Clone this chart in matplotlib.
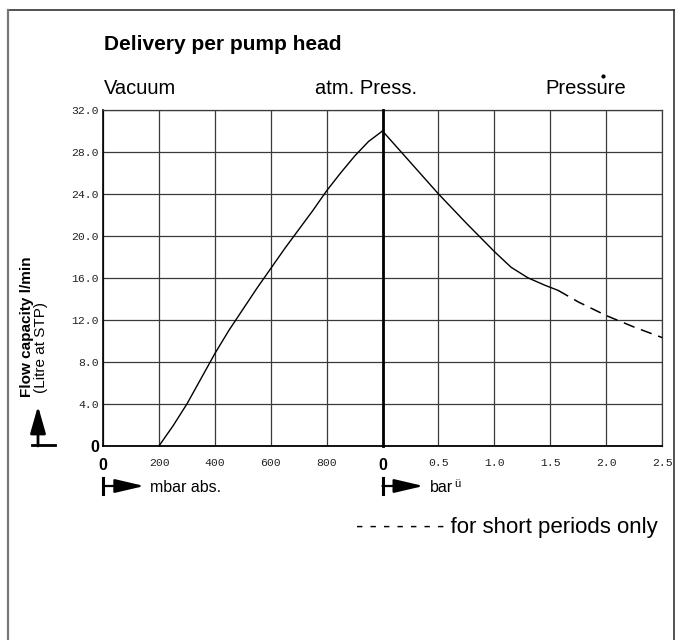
import matplotlib
matplotlib.use('Agg')
import matplotlib.pyplot as plt
from matplotlib.patches import FancyArrowPatch
from matplotlib.lines import Line2D

# ---------------- data ----------------
vac_mbar = [200, 250, 300, 350, 400, 450, 500, 550, 600, 650, 700, 750, 800, 850, 900, 950, 1000]
vac_flow = [0.0, 1.9, 4.0, 6.4, 8.8, 11.0, 13.0, 15.0, 16.9, 18.8, 20.6, 22.4, 24.3, 26.0, 27.6, 29.0, 30.0]

pr_bar = [0.0, 0.25, 0.5, 0.75, 1.0, 1.15, 1.3, 1.45, 1.57]
pr_flow = [30.0, 27.0, 24.0, 21.2, 18.5, 17.0, 16.0, 15.3, 14.8]

short_bar = [1.57, 1.75, 2.0, 2.25, 2.5]
short_flow = [14.8, 13.7, 12.4, 11.3, 10.3]

y_ticks = [0, 4, 8, 12, 16, 20, 24, 28, 32]
y_labels = ['0', '4.0', '8.0', '12.0', '16.0', '20.0', '24.0', '28.0', '32.0']
vac_ticks = [0, 200, 400, 600, 800]
vac_labels = ['0', '200', '400', '600', '800']
pr_ticks = [0, 0.5, 1.0, 1.5, 2.0, 2.5]
pr_labels = ['0', '0.5', '1.0', '1.5', '2.0', '2.5']

title = 'Delivery per pump head'
region_labels = ['Vacuum', 'atm. Press.', 'Pressure']
ylabel_main = 'Flow capacity l/min'
ylabel_sub = '(Litre at STP)'
unit_vac = 'mbar abs.'
unit_pr = 'bar'
note = '- - - - - - - for short periods only'

# ---------------- figure ----------------
W, H = 681, 640
fig = plt.figure(figsize=(W / 100, H / 100), dpi=100)
fig.patch.set_facecolor('white')
SANS = ['Liberation Sans', 'DejaVu Sans']
MONO = ['Liberation Mono', 'DejaVu Sans Mono']


def fx(x):
    return x / W


def fy(y):
    return 1 - y / H


L, M, R = 103.3, 382.5, 662.3
T, B = 110.0, 445.7
ax1 = fig.add_axes([fx(L), fy(B), (M - L) / W, (B - T) / H])
ax2 = fig.add_axes([fx(M), fy(B), (R - M) / W, (B - T) / H])

GRID = '#3a3a3a'
for ax in (ax1, ax2):
    ax.set_ylim(0, 32)
    ax.set_yticks(y_ticks)
    ax.grid(True, color=GRID, lw=0.9)
    ax.set_axisbelow(True)
    ax.tick_params(length=0)
    for s in ax.spines.values():
        s.set_color(GRID)
        s.set_linewidth(0.9)
    ax.spines['bottom'].set_color('black')
    ax.spines['bottom'].set_linewidth(1.3)

ax1.set_xlim(0, 1000)
ax1.set_xticks(vac_ticks)
ax1.set_xticklabels(vac_labels)
ax1.set_yticklabels(y_labels)
ax1.spines['left'].set_color('black')
ax1.spines['left'].set_linewidth(1.2)
ax1.spines['right'].set_visible(False)
ax1.tick_params(axis='y', pad=3)
ax1.tick_params(axis='x', pad=9)

ax2.set_xlim(0, 2.5)
ax2.set_xticks(pr_ticks)
ax2.set_xticklabels(pr_labels)
ax2.tick_params(axis='y', labelleft=False)
ax2.tick_params(axis='x', pad=9)
ax2.spines['left'].set_color('black')
ax2.spines['left'].set_linewidth(2.0)
ax2.spines['left'].set_zorder(5)

for ax in (ax1, ax2):
    for lab in ax.get_xticklabels() + ax.get_yticklabels():
        if lab.get_text() == '0':
            lab.set_family(SANS)
            lab.set_fontweight('bold')
            lab.set_fontsize(11.5)
            lab.set_color('black')
        else:
            lab.set_family(MONO)
            lab.set_fontsize(8.2)
            lab.set_color('#222222')

ax1.plot(vac_mbar, vac_flow, color='black', lw=1.0, zorder=4, clip_on=False)
ax2.plot(pr_bar, pr_flow, color='black', lw=1.0, zorder=4, clip_on=False)
ax2.plot(short_bar, short_flow, color='black', lw=1.1, linestyle=(0, (7.5, 4.5)),
         zorder=4, clip_on=False)

# ---------------- texts ----------------
fig.text(fx(104), fy(44), title, fontsize=15, fontweight='bold', family=SANS,
         ha='left', va='center')
fig.text(fx(104), fy(88), region_labels[0], fontsize=14.5, family=SANS, ha='left', va='center')
fig.text(fx(366), fy(88), region_labels[1], fontsize=14.5, family=SANS, ha='center', va='center')
fig.text(fx(626), fy(88), region_labels[2], fontsize=14.5, family=SANS, ha='right', va='center')
# small stray dot above "Pressure" in the original
fig.add_artist(Line2D([fx(603)], [fy(76)], marker='o', markersize=2, color='black',
                      lw=0, transform=fig.transFigure))

fig.text(fx(27.5), fy(397), ylabel_main, fontsize=11, fontweight='bold', family=SANS,
         rotation=90, ha='center', va='bottom')
fig.text(fx(41.5), fy(393), ylabel_sub, fontsize=11, family=SANS,
         rotation=90, ha='center', va='bottom')

# y arrow
fig.add_artist(Line2D([fx(31.5), fx(55)], [fy(445), fy(445)], color='black', lw=2.0,
                      transform=fig.transFigure))
fig.add_artist(FancyArrowPatch((fx(38), fy(446)), (fx(38), fy(406)),
                               transform=fig.transFigure,
                               arrowstyle='-|>,head_length=1.65,head_width=0.47',
                               mutation_scale=10, lw=2.0, color='black',
                               shrinkA=0, shrinkB=0))

# x unit arrows
for x0, txt in ((L, unit_vac), (M, unit_pr)):
    fig.add_artist(Line2D([fx(x0), fx(x0)], [fy(478), fy(494)], color='black', lw=2.2,
                          transform=fig.transFigure))
    fig.add_artist(FancyArrowPatch((fx(x0), fy(486)), (fx(x0 + 41), fy(486)),
                                   transform=fig.transFigure,
                                   arrowstyle='-|>,head_length=1.8,head_width=0.42',
                                   mutation_scale=10, lw=1.6, color='black',
                                   shrinkA=0, shrinkB=0))
    fig.text(fx(x0 + 47), fy(488), txt, fontsize=11.5, family=SANS, ha='left', va='center')
fig.text(fx(454), fy(484), '\u00fc', fontsize=8, family=SANS, ha='left', va='center')

fig.text(fx(658), fy(528), note, fontsize=16, family=SANS, ha='right', va='center')

# outer frame
fig.add_artist(Line2D([fx(8), fx(674)], [fy(10.3), fy(10.3)], color='#333333', lw=1.2,
                      transform=fig.transFigure))
fig.add_artist(Line2D([fx(8.3), fx(8.3)], [fy(10), fy(642)], color='#777777', lw=1.6,
                      transform=fig.transFigure))
fig.add_artist(Line2D([fx(674), fx(674)], [fy(10), fy(642)], color='#333333', lw=1.2,
                      transform=fig.transFigure))

fig.savefig('out.png', dpi=100, facecolor='white')
